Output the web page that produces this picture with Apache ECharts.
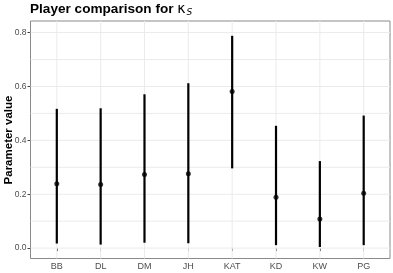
<!DOCTYPE html>
<html>
<head>
<meta charset="utf-8">
<script src="https://cdn.jsdelivr.net/npm/echarts@6/dist/echarts.min.js"></script>
<style>html,body{margin:0;padding:0;background:#fff}#c{width:393px;height:273px}</style>
</head>
<body>
<div id="c"></div>
<script>
const players = ['BB','DL','DM','JH','KAT','KD','KW','PG'];
const estimate = [0.239, 0.236, 0.273, 0.276, 0.581, 0.189, 0.108, 0.204];
const lower    = [0.017, 0.013, 0.020, 0.018, 0.296, 0.011, 0.004, 0.011];
const upper    = [0.517, 0.519, 0.571, 0.612, 0.788, 0.454, 0.323, 0.492];
const yTicks = [0, 0.2, 0.4, 0.6, 0.8];
const yGrid = [0, 0.1, 0.2, 0.3, 0.4, 0.5, 0.6, 0.7, 0.8];
const yTitle = 'Parameter value';

const FONT = 'Liberation Sans';
const xPos = players.map((p, i) => i + 1);

const chart = echarts.init(document.getElementById('c'), null, {renderer: 'canvas'});
chart.setOption({
  animation: false,
  backgroundColor: '#ffffff',
  title: {
    left: 30, top: 2, padding: 0,
    text: '{b|Player comparison for }{k|κ}{s|S}',
    textStyle: {
      rich: {
        b: {fontFamily: FONT, fontWeight: 'bold', fontSize: 13.6, color: '#000'},
        k: {fontFamily: 'DejaVu Sans', fontWeight: 'normal', fontSize: 14, color: '#000'},
        s: {fontFamily: 'DejaVu Sans', fontWeight: 'normal', fontStyle: 'italic', fontSize: 9, color: '#000', verticalAlign: 'bottom', padding: [6, 0, 0, 1]}
      }
    }
  },
  graphic: [{
    type: 'text', x: 8.5, y: 140, rotation: Math.PI / 2,
    style: {text: yTitle, fontFamily: FONT, fontWeight: 'bold', fontSize: 11.5, fill: '#000',
            align: 'center', verticalAlign: 'middle'}
  }],
  grid: {
    left: 30.5, right: 3, top: 21, bottom: 14.5,
    containLabel: false, outerBoundsMode: 'none',
    show: true, borderColor: '#8a8a8a', borderWidth: 1, backgroundColor: 'transparent'
  },
  xAxis: {
    type: 'value', min: 0.4, max: 8.6,
    axisLine: {show: false},
    splitLine: {show: false},
    axisTick: {show: true, customValues: xPos, length: 3, lineStyle: {color: '#444'}},
    axisLabel: {
      customValues: xPos, margin: 4,
      formatter: v => players[Math.round(v) - 1] || '',
      fontFamily: FONT, fontSize: 9, color: '#4d4d4d'
    }
  },
  yAxis: {
    type: 'value', min: -0.0386, max: 0.843,
    axisLine: {show: false},
    splitLine: {show: false},
    axisTick: {show: true, customValues: yTicks, length: 3, lineStyle: {color: '#444'}},
    axisLabel: {
      customValues: yTicks, margin: 4,
      formatter: v => v.toFixed(1),
      fontFamily: FONT, fontSize: 8.5, color: '#4d4d4d'
    }
  },
  series: [
    {
      type: 'custom', z: 1, silent: true,
      data: yGrid.map(v => ['h', v]).concat(xPos.map(v => ['v', v])),
      renderItem: (params, api) => {
        const cs = params.coordSys;
        const kind = yGrid.length > params.dataIndex ? 'h' : 'v';
        const val = api.value(1);
        let shape;
        if (kind === 'h') {
          const y = api.coord([1, val])[1];
          shape = {x1: cs.x, y1: y, x2: cs.x + cs.width, y2: y};
        } else {
          const x = api.coord([val, 0])[0];
          shape = {x1: x, y1: cs.y, x2: x, y2: cs.y + cs.height};
        }
        return {type: 'line', shape: shape, style: {stroke: '#ebebeb', lineWidth: 1}};
      }
    },
    {
      type: 'custom', z: 3,
      data: players.map((p, i) => [xPos[i], lower[i], upper[i]]),
      renderItem: (params, api) => {
        const x = api.value(0);
        const p1 = api.coord([x, api.value(1)]);
        const p2 = api.coord([x, api.value(2)]);
        return {type: 'line', shape: {x1: p1[0], y1: p1[1], x2: p2[0], y2: p2[1]},
                style: {stroke: '#000', lineWidth: 2.2}};
      }
    },
    {
      type: 'scatter', z: 4,
      data: players.map((p, i) => [xPos[i], estimate[i]]),
      symbol: 'circle', symbolSize: 5,
      itemStyle: {color: '#000'}
    }
  ]
});
</script>
</body>
</html>
